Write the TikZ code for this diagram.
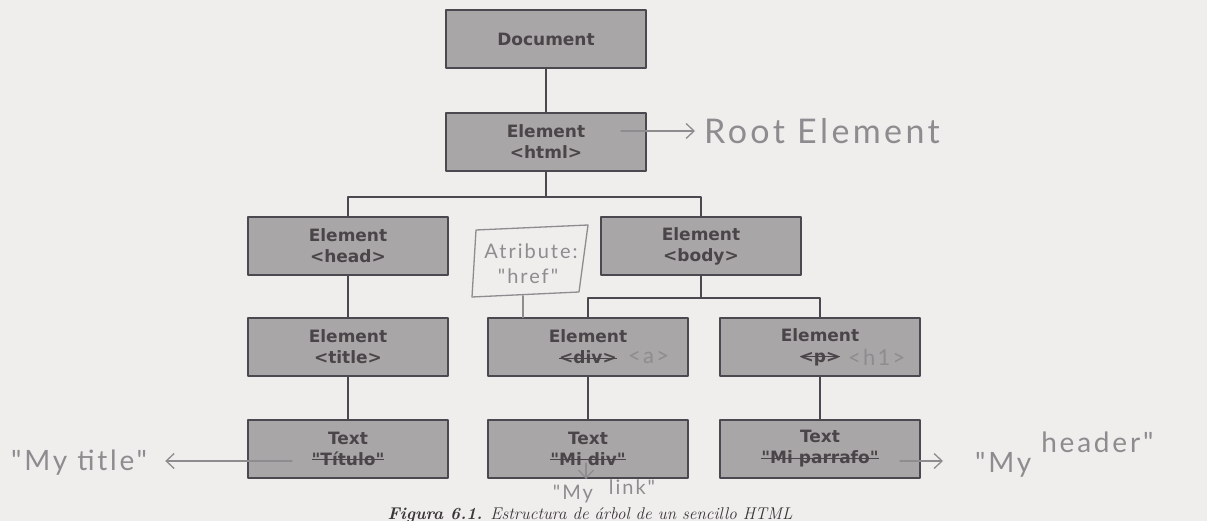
\documentclass[tikz,border=0pt]{standalone}
\usepackage{fontspec}
\usetikzlibrary{arrows.meta}
\newfontfamily\boxfont{DejaVu Sans}
\newfontfamily\handfont{Lato}[LetterSpace=10]
\newcommand{\Px}{1pt}
\newcommand{\BoxW}{200pt}
\newcommand{\BoxH}{58pt}
\newcommand{\Edge}{1.4pt}
\newcommand{\Pencil}{1.3pt}
\newcommand{\Struck}[1]{\setbox0\hbox{#1}\rlap{\raisebox{0.3em}{\rule{\wd0}{1.1pt}}}\box0}
\definecolor{paper}{HTML}{F0EDED}
\definecolor{boxfill}{HTML}{A9A6A8}
\definecolor{boxedge}{HTML}{4C4850}
\definecolor{boxtext}{HTML}{4A4548}
\definecolor{lead}{HTML}{8E8C8E}
\definecolor{printink}{HTML}{3A3638}

\begin{document}
\begin{tikzpicture}[x=\Px,y=-\Px, line join=round, line cap=round,
  domnode/.style={draw=boxedge, fill=boxfill, line width=\Edge,
    minimum width=\BoxW, minimum height=\BoxH, inner sep=0pt, align=center,
    text=boxtext, font=\boxfont\bfseries\fontsize{17}{21}\selectfont},
  branch/.style={draw=boxedge, line width=1.2pt},
  pencil/.style={draw=lead, line width=\Pencil},
  scrawl/.style={text=lead, inner sep=0pt, font=\handfont\fontsize{#1}{#1}\selectfont},
  scrawl/.default=28,
  barb/.style={-{Straight Barb[length=8pt,width=15pt,line width=\Pencil]}}]

  % ---- page: the scan is cut to the figure ------------------------------
  \useasboundingbox (0,0) rectangle (1207,521);
  \fill[paper] (0,0) rectangle (1207,521);

  % ---- the tree ------------------------------------------------------------
  \node[domnode] (doc)     at (546,39)  {Document};
  \node[domnode] (html)    at (546,142) {Element\\<html>};
  \node[domnode] (head)    at (348,246) {Element\\<head>};
  \node[domnode] (body)    at (701,246) {Element\\<body>};
  \node[domnode] (title)   at (348,347) {Element\\<title>};
  \node[domnode] (div)     at (588,347) {Element\\\Struck{<div>}};
  \node[domnode] (p)       at (820,347) {Element\\\Struck{<p>}};
  \node[domnode] (ttitulo) at (348,449) {Text\\\Struck{"Título"}};
  \node[domnode] (tdiv)    at (588,449) {Text\\\Struck{"Mi div"}};
  \node[domnode] (tpar)    at (820,449) {Text\\\Struck{"Mi parrafo"}};

  % Forks sit half way between a parent and its children.
  \coordinate (forkhtml) at (546,197);
  \coordinate (forkbody) at (701,298);
  \draw[branch] (doc) -- (html);
  \draw[branch] (html) -- (forkhtml);
  \draw[branch] (head.north) |- (forkhtml) -| (body.north);
  \draw[branch] (body) -- (forkbody);
  \draw[branch] (div.north) |- (forkbody) -| (p.north);
  \foreach \up/\down in {head/title, title/ttitulo, div/tdiv, p/tpar} {
    \draw[branch] (\up) -- (\down);
  }

  % ---- pencil notes --------------------------------------------------------
  \node[scrawl=34, anchor=west] (rootlbl) at (704,131) {Root Element};
  \coordinate (rootfrom) at (621,131);
  \draw[pencil,barb,shorten >=9pt] (rootfrom) -- (rootlbl.west);

  % The attribute flag, a leaning box on a post.
  \coordinate (flagNW) at (476,230);
  \coordinate (flagNE) at (588,225);
  \coordinate (flagSE) at (579,292);
  \coordinate (flagSW) at (472,297);
  \coordinate (flagfoot) at (523,296);
  \draw[pencil] (flagNW) -- (flagNE) -- (flagSE) -- (flagSW) -- cycle;
  \draw[pencil,line width=2pt] (flagfoot) -- (flagfoot |- div.north);
  \node[scrawl=20] (attrname) at (531,251) {Atribute:};
  \node[scrawl=20] (attrval)  at (528,276) {"href"};

  \node[scrawl=22, anchor=west] (atag)  at (628,357) {<a>};
  \node[scrawl=22, anchor=west] (h1tag) at (848,357) {<h1>};

  \node[scrawl=28, anchor=base west] (mytitle) at (11,470) {"My title"};
  \coordinate (titlefrom) at (292,461);
  \draw[pencil,barb,shorten >=18pt] (titlefrom) -- (titlefrom -| mytitle.east);

  \node[scrawl=20, anchor=base] (mylink) at (604,499) {"My\hspace{16pt}\raisebox{5pt}{link"}};
  \coordinate (divfrom) at (586,463);
  \draw[pencil,barb] (divfrom) -- (divfrom |- mylink.north);

  \node[scrawl=28, anchor=base west] (myheader) at (975,472) {"My \raisebox{20pt}{header"}};
  \coordinate (parfrom) at (900,461);
  \draw[pencil,barb,shorten >=32pt] (parfrom) -- (parfrom -| myheader.west);

  % ---- caption, at the foot of the scan ------------------------------------
  \node[anchor=base, text=printink, inner sep=0pt,
    font=\itshape\fontsize{17}{17}\selectfont] (caption) at (590,519)
    {\textbf{Figura 6.1.} Estructura de árbol de un sencillo HTML};

\end{tikzpicture}
\end{document}
